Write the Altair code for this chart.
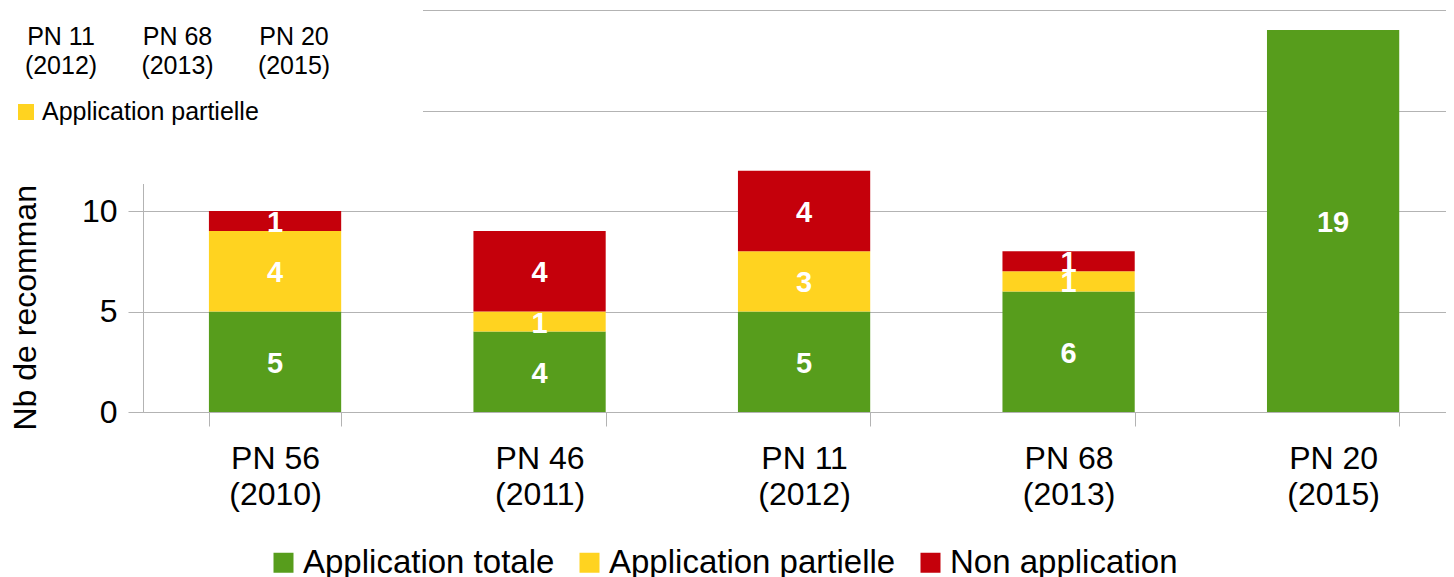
import altair as alt
import pandas as pd

categories = ["PN 56 (2010)", "PN 46 (2011)", "PN 11 (2012)", "PN 68 (2013)", "PN 20 (2015)"]
statuses = ["Application totale", "Application partielle", "Non application"]
totale = [5, 4, 5, 6, 19]
partielle = [4, 1, 3, 1, 0]
non_app = [1, 4, 4, 1, 0]
colors = ["#579D1C", "#FFD320", "#C5000B"]
y_ticks = [0, 5, 10, 15, 20]

# obscuring preview box at top-left (partial copy of the chart)
overlay_categories = ["PN 11 (2012)", "PN 68 (2013)", "PN 20 (2015)"]
overlay_legend = ["Application partielle"]

FONT = "Liberation Sans"
GREY = "#b3b3b3"

rows = []
for i, c in enumerate(categories):
    for j, (s, vals) in enumerate(zip(statuses, [totale, partielle, non_app])):
        rows.append({"cat": c, "status": s, "order": j, "value": vals[i]})
df = pd.DataFrame(rows)

base = alt.Chart(df).transform_stack(
    stack="value", groupby=["cat"], sort=[alt.SortField("order")], as_=["y0", "y1"]
).transform_calculate(mid="(datum.y0 + datum.y1) / 2")

x_enc = alt.X(
    "cat:N",
    sort=categories,
    scale=alt.Scale(paddingInner=0.5, paddingOuter=0.213, align=0.585),
    axis=alt.Axis(
        title=None, labelAngle=0, labelFontSize=32, labelFont=FONT, labelColor="#000000",
        labelExpr="[slice(datum.label, 0, indexof(datum.label, ' (')), slice(datum.label, indexof(datum.label, ' (') + 1)]",
        labelLineHeight=36, labelPadding=17, tickSize=14, tickColor=GREY, domainColor=GREY,
        tickBand="extent", grid=False, labelBaseline="top", labelOverlap=False, labelLimit=400,
    ),
)

y_scale = alt.Scale(domain=[0, 20], nice=False)
y_axis = alt.Axis(
    values=y_ticks, title="Nb de recommandations", labelFontSize=32, labelFont=FONT,
    labelColor="#000000", labelPadding=11, tickSize=15, tickColor=GREY, domainColor=GREY,
    gridColor=GREY, grid=True, titleFontSize=32, titleFont=FONT, titleColor="#000000",
    titleFontWeight="normal", titleAngle=270, titleAlign="left", titleBaseline="middle",
    titleX=-118, titleY=420,
)

bars = base.mark_bar().encode(
    x=x_enc,
    y=alt.Y("y0:Q", scale=y_scale, axis=y_axis),
    y2="y1:Q",
    color=alt.Color(
        "status:N",
        scale=alt.Scale(domain=statuses, range=colors),
        legend=alt.Legend(
            title=None, orient="none", legendX=124, legendY=536, direction="horizontal",
            symbolType="square", symbolSize=400, symbolStrokeWidth=0, labelFontSize=33,
            labelFont=FONT, labelColor="#000000", columnPadding=18, labelOffset=3,
            padding=0, labelLimit=600,
        ),
    ),
    order=alt.Order("order:Q"),
)

labels = base.transform_filter("datum.value > 0").mark_text(
    color="white", fontWeight="bold", fontSize=29, font=FONT, baseline="middle", dy=2
).encode(
    x=x_enc,
    y=alt.Y("mid:Q", scale=y_scale, axis=y_axis),
    text="value:Q",
)

cover = alt.Chart(pd.DataFrame({"k": [0]})).mark_rect(color="white").encode(
    x=alt.value(-143), x2=alt.value(280), y=alt.value(-10), y2=alt.value(174)
)

ov_df = pd.DataFrame({
    "i": list(range(len(overlay_categories))),
    "label": [c.replace(" (", "\n(") for c in overlay_categories],
})
ov_text = alt.Chart(ov_df).transform_calculate(px="-82 + datum.i * 116.5").mark_text(
    fontSize=25, font=FONT, color="#000000", align="center", baseline="alphabetic",
    lineBreak="\n", lineHeight=29,
).encode(
    x=alt.X("px:Q", scale=None),
    y=alt.value(35),
    text="label:N",
)

ovl_df = pd.DataFrame({"label": overlay_legend})
ov_sym = alt.Chart(ovl_df).mark_point(shape="square", filled=True, size=256, color="#FFD320", opacity=1).encode(
    x=alt.value(-117), y=alt.value(102)
)
ov_lab = alt.Chart(ovl_df).mark_text(
    fontSize=25, font=FONT, color="#000000", align="left", baseline="middle"
).encode(x=alt.value(-101), y=alt.value(102), text="label:N")

chart = alt.layer(bars, labels, cover, ov_text, ov_sym, ov_lab).properties(
    width=1303, height=402,
    autosize=alt.AutoSizeParams(type="none"),
    padding={"left": 135, "top": 2, "right": 0, "bottom": 165},
).configure_view(stroke=None).configure(background="white")

chart.save("out.html", embed_options={"renderer": "svg", "actions": False})
